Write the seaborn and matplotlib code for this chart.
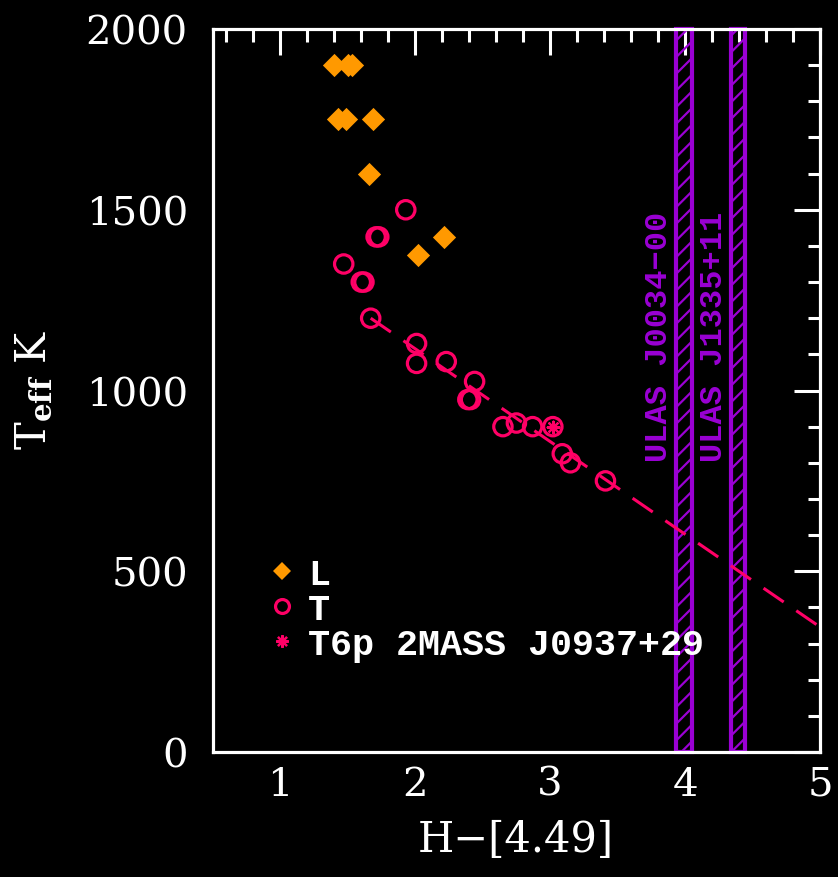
import numpy as np
import pandas as pd
import matplotlib
matplotlib.use("Agg")
import matplotlib.pyplot as plt
from matplotlib.lines import Line2D
import seaborn as sns

# L dwarfs: colour H-[4.49] and effective temperature
l_color = [1.40, 1.50, 1.53, 1.43, 1.49, 1.69, 1.66, 2.21, 2.02]
l_teff = [1900, 1900, 1900, 1750, 1750, 1750, 1600, 1425, 1375]

# T dwarfs
t_color = [1.93, 1.71, 1.73, 1.47, 1.60, 1.62, 1.67, 2.01, 2.01, 2.23, 2.44,
           2.39, 2.41, 2.65, 2.75, 2.87, 3.02, 3.09, 3.15, 3.41]
t_teff = [1500, 1425, 1425, 1350, 1300, 1300, 1200, 1130, 1075, 1080, 1025,
          975, 975, 900, 910, 900, 900, 825, 800, 750]

# peculiar T6p object
p_color = [3.02]
p_teff = [900]

# linear relation for the T sequence
fit_x = [1.67, 5.0]
fit_slope = -256.5
fit_anchor = 1200

# ULAS objects: colour estimate and half-width of range
ulas_names = ["ULAS J0034\u221200", "ULAS J1335+11"]
ulas_color = [3.99, 4.395]
ulas_width = [0.12, 0.105]

legend_labels = ["L", "T", "T6p 2MASS J0937+29"]
xticks = [1, 2, 3, 4, 5]
yticks = [0, 500, 1000, 1500, 2000]

orange = "#FF9900"
pink = "#FF0066"
purple = "#9A00D4"

sns.set_style("dark")
plt.rcParams.update({
    "figure.facecolor": "black",
    "axes.facecolor": "black",
    "savefig.facecolor": "black",
    "axes.edgecolor": "white",
    "text.color": "white",
    "xtick.color": "white",
    "ytick.color": "white",
    "axes.grid": False,
    "hatch.linewidth": 1.6,
    "hatch.color": purple,
})
plt.rcParams["font.family"] = ["DejaVu Serif", "DejaVu Sans"]
plt.rcParams["mathtext.fontset"] = "dejavuserif"

fig = plt.figure(figsize=(8.38, 8.78), dpi=100)
ax = fig.add_axes([0.254, 0.1424, 0.7245, 0.8234])

# hatched colour ranges of the ULAS objects
ax.bar(ulas_color, [2000, 2000], width=ulas_width, bottom=0,
       facecolor="none", edgecolor=purple, hatch="//", linewidth=3.0,
       zorder=1, clip_on=False)
for name, xc, w in zip(ulas_names, ulas_color, ulas_width):
    ax.text(xc - w / 2 - 0.125, 805, name, rotation=90, ha="center",
            va="bottom", color=purple, fontsize=23, fontweight="bold",
            family="Liberation Mono", zorder=3)

# linear relation
fit_df = pd.DataFrame({"x": fit_x})
fit_df["y"] = fit_anchor + fit_slope * (fit_df["x"] - fit_x[0])
sns.lineplot(data=fit_df, x="x", y="y", ax=ax, color=pink, lw=2.2, zorder=2)
ax.lines[-1].set_linestyle((0, (8, 5)))

l_df = pd.DataFrame({"x": l_color, "y": l_teff})
t_df = pd.DataFrame({"x": t_color, "y": t_teff})
p_df = pd.DataFrame({"x": p_color, "y": p_teff})

sns.scatterplot(data=l_df, x="x", y="y", ax=ax, marker="D", s=140,
                color=orange, edgecolor=orange, linewidth=0, zorder=4)
sns.scatterplot(data=t_df, x="x", y="y", ax=ax, marker="o", s=175,
                facecolor="none", edgecolor=pink, linewidth=2.3, zorder=4)
sns.scatterplot(data=p_df, x="x", y="y", ax=ax, marker=(8, 2, 0), s=70,
                color=pink, edgecolor=pink, linewidth=1.6, zorder=5)

ax.set_xlim(0.5, 5.0)
ax.set_ylim(0, 2000)
ax.set_xticks(xticks)
ax.set_yticks(yticks)
ax.set_xticks(np.arange(0.6, 5.0, 0.2), minor=True)
ax.set_yticks(np.arange(0, 2001, 100), minor=True)
ax.tick_params(which="both", direction="in", top=True, right=True,
               width=2.2, colors="white")
ax.tick_params(which="major", length=18.5)
ax.tick_params(which="minor", length=9)
ax.tick_params(axis="y", which="major", labelsize=29, pad=18)
ax.tick_params(axis="x", which="major", labelsize=29, pad=10)
for s in ax.spines.values():
    s.set_linewidth(2.3)
    s.set_color("white")
    s.set_zorder(6)

ax.set_xlabel("")
ax.set_ylabel("")
fig.text(0.616, 0.043, "H\u2212[4.49]", ha="center", va="center",
         fontsize=30, color="white")
fig.text(0.040, 0.556, r"T$_{\mathbf{eff}}$ K", ha="center", va="center",
         rotation=90, fontsize=30, color="white")

handles = [
    Line2D([], [], ls="none", marker="D", markersize=9, color=orange,
           markeredgewidth=0),
    Line2D([], [], ls="none", marker="o", markersize=10, markerfacecolor="none",
           markeredgecolor=pink, markeredgewidth=2.3),
    Line2D([], [], ls="none", marker=(8, 2, 0), markersize=9, color=pink,
           markeredgewidth=1.6),
]
leg = ax.legend(handles, legend_labels, loc="upper left",
                bbox_to_anchor=(0.066, 0.29), frameon=False,
                handlelength=0.8, handletextpad=0.3, labelspacing=0.0,
                borderaxespad=0,
                prop={"family": "Liberation Mono", "weight": "bold", "size": 26.5})
for t in leg.get_texts():
    t.set_color("white")

fig.savefig("out.png", dpi=100, facecolor="black")
